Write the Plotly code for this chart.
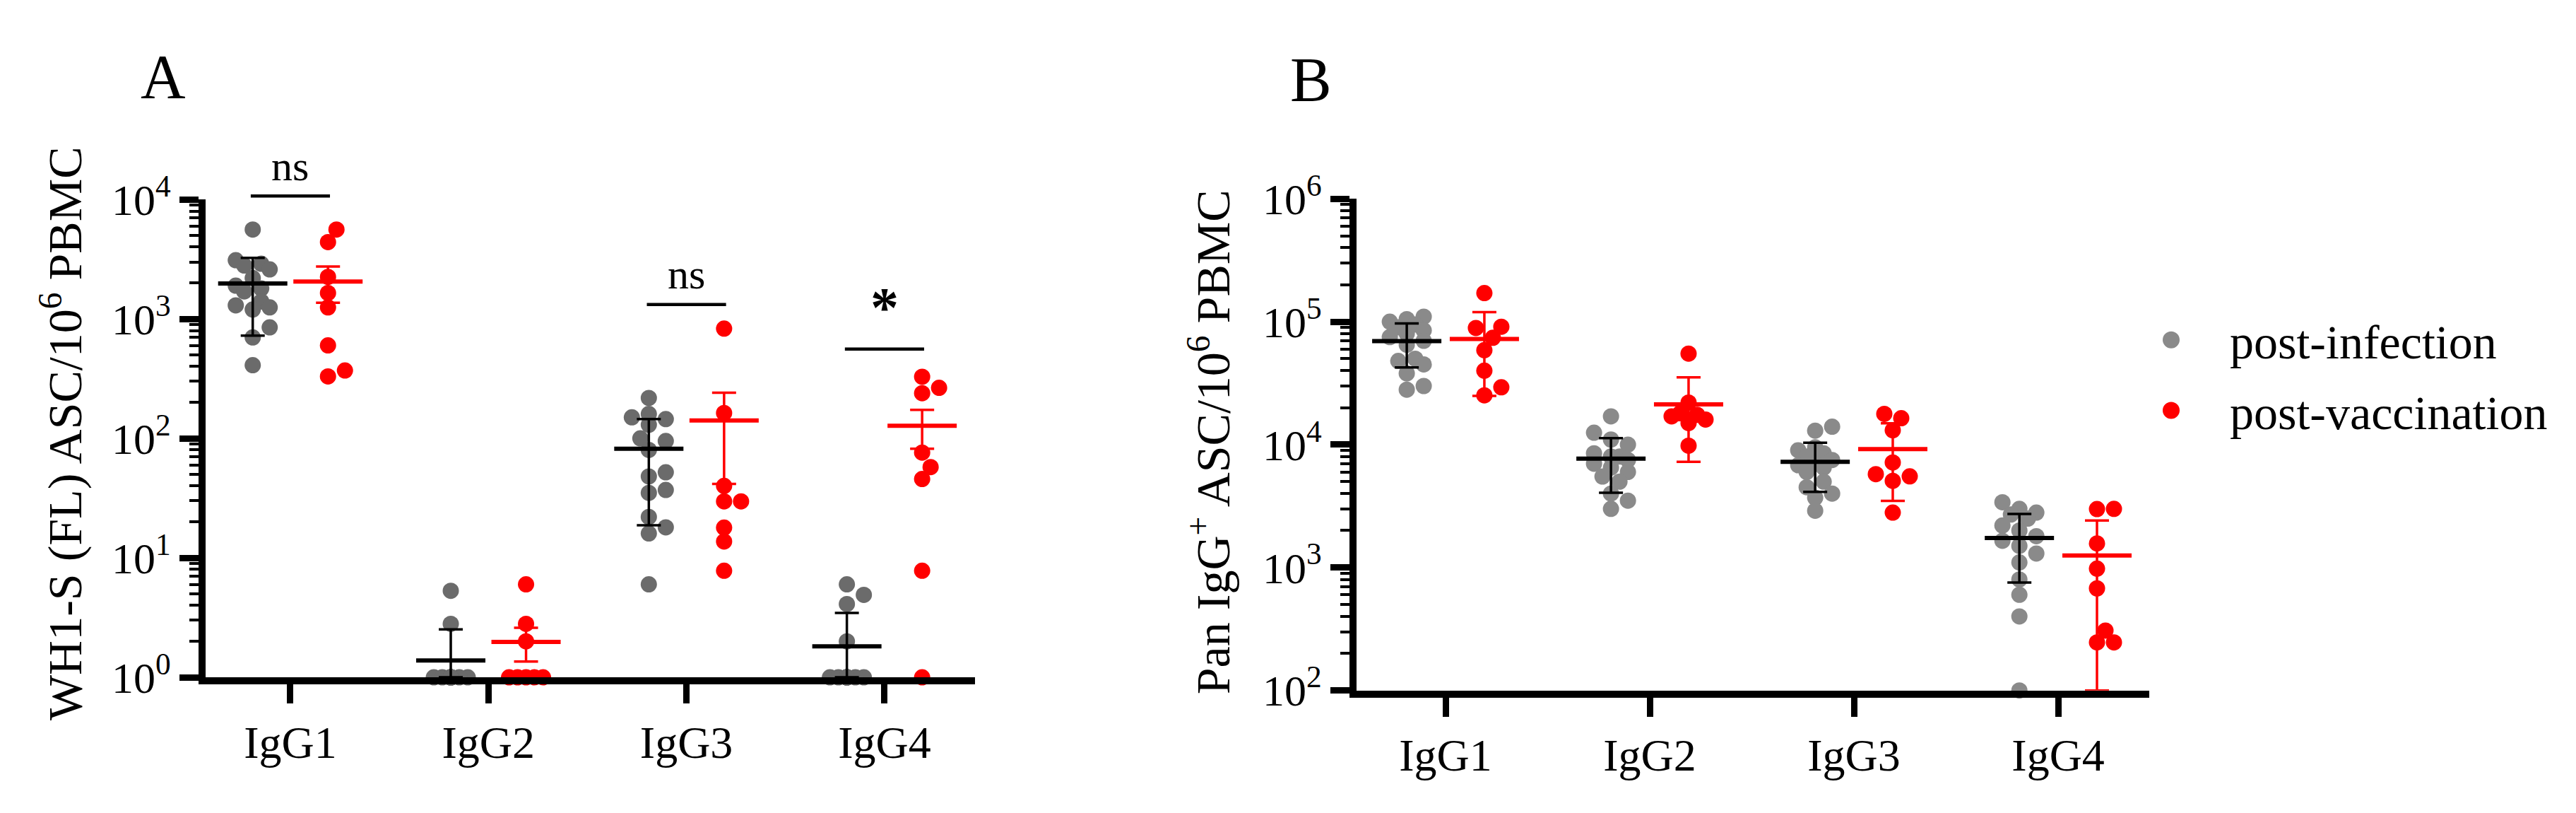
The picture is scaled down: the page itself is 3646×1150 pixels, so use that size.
import numpy as np
import plotly.graph_objects as go

#++++++++++++++++++++++++++++++++++++
# Data
#++++++++++++++++++++++++++++++++++++

CATEGORIES = ["IgG1", "IgG2", "IgG3", "IgG4"]
GROUPS = ["post-infection", "post-vaccination"]

# Panel A - WH1-S (FL) ASC / 10^6 PBMC
A_INF_IGG1 = [5600, 3100, 2900, 2800, 2600, 2200, 1900, 1800, 1700, 1400, 1300, 1250, 1200, 850, 700, 410]
A_INF_IGG2 = [5.3, 2.8, 1, 1, 1, 1, 1, 1, 1, 1, 1, 1, 1, 1, 1, 1]
A_INF_IGG3 = [218, 160, 150, 145, 130, 100, 95, 80, 52, 48, 37, 35, 22, 18, 16, 6]
A_INF_IGG4 = [6, 4.9, 4.1, 2, 1, 1, 1, 1, 1, 1, 1, 1, 1, 1, 1, 1]
A_VAC_IGG1 = [5600, 4400, 2250, 1650, 1250, 600, 370, 330]
A_VAC_IGG2 = [6.0, 2.8, 2.0, 1, 1, 1, 1, 1]
A_VAC_IGG3 = [830, 163, 40, 29.7, 29.7, 17.9, 13.7, 7.8]
A_VAC_IGG4 = [328, 265, 239, 76, 57.5, 45.7, 7.8, 1]

# Panel B - Pan IgG+ ASC / 10^6 PBMC
B_INF_IGG1 = [110000, 105000, 100000, 95000, 90000, 85000, 80000, 75000, 70000, 65000, 50000, 48000, 45000, 38000, 30000, 28000]
B_INF_IGG2 = [17000, 12500, 11000, 10000, 8500, 8000, 8000, 7500, 7000, 6500, 6000, 5500, 5000, 4000, 3500, 3000]
B_INF_IGG3 = [14000, 13000, 9500, 9000, 8500, 8000, 7500, 7000, 6800, 6500, 6000, 5000, 4500, 4000, 3700, 2900]
B_INF_IGG4 = [3400, 3000, 2800, 2700, 2500, 2200, 2000, 1800, 1650, 1500, 1300, 1100, 800, 600, 400, 100]
B_VAC_IGG1 = [171000, 91000, 89000, 74000, 58700, 40000, 29300, 25200]
B_VAC_IGG2 = [55000, 22000, 18000, 17500, 17000, 16000, 15000, 9800]
B_VAC_IGG3 = [17800, 16400, 13100, 7160, 5750, 5520, 5070, 2800]
B_VAC_IGG4 = [3000, 2990, 1570, 980, 677, 307, 246, 246]

Y_TICKS_A = [1, 10, 100, 1000, 10000]
Y_TICKS_B = [100, 1000, 10000, 100000, 1000000]

# significance brackets in panel A: category, bracket value, label
SIG_CATS = [0, 2, 3]
SIG_LEVELS = [10700, 1320, 560]
SIG_LABELS = ["ns", "ns", "*"]

#++++++++++++++++++++++++++++++++++++
# Layout constants (pixels)
#++++++++++++++++++++++++++++++++++++

W, H = 3646, 1150
FONT = "Liberation Serif"
GRAY_A = "#6b6b6b"
GRAY_B = "#8a8a8a"
RED = "#ff0000"
DOT = 23
GROUP_SHIFT = 0.19

PANELS = {
    "A": dict(x0=283, x1=1372, xr=(-0.428, 3.457), ytop=248, ybot=973, yr=(0, 4)),
    "B": dict(x0=1912, x1=3034, xr=(-0.436, 3.446), ytop=247, ybot=993, yr=(2, 6)),
}


def px_scales(p):
    per_unit = (p["x1"] - p["x0"]) / (p["xr"][1] - p["xr"][0])
    per_decade = (p["ybot"] - p["ytop"]) / (p["yr"][1] - p["yr"][0])
    return per_unit, per_decade


def swarm(values, p, step=12.0, max_k=2):
    """Greedy beeswarm offsets (axis units), GraphPad-like narrow columns."""
    per_unit, per_decade = px_scales(p)
    ys = np.log10(values) * per_decade
    order = np.argsort(ys, kind="stable")
    placed = []
    offs = np.zeros(len(values))
    lim = DOT * 0.85
    for i in order:
        cands = [0.0]
        for k in range(1, max_k + 1):
            cands += [k * step, -k * step]
        best, best_d = None, -1
        for c in cands:
            d = min([np.hypot(c - px, ys[i] - py) for px, py in placed] or [1e9])
            if d >= lim:
                best = c
                break
            if d > best_d:
                best, best_d = c, d
        placed.append((best, ys[i]))
        offs[i] = best / per_unit
    return offs


def summary(values, kind):
    v = np.asarray(values, dtype=float)
    m = v.mean()
    sd = v.std(ddof=1)
    err = sd / np.sqrt(len(v)) if kind == "sem" else sd
    return m, err


def add_group(fig, panel, series, color, mean_color, shift, kind, xa, ya):
    p = PANELS[panel]
    ymin = 10 ** p["yr"][0]
    xs, ys = [], []
    for i, vals in enumerate(series):
        offs = swarm(vals, p)
        xs += list(i + shift + offs)
        ys += list(vals)
    fig.add_trace(go.Scatter(
        x=xs, y=ys, mode="markers", xaxis=xa, yaxis=ya, showlegend=False,
        marker=dict(size=DOT, color=color, line=dict(width=0)), cliponaxis=False,
    ))
    means, up, down = [], [], []
    for vals in series:
        m, e = summary(vals, kind)
        means.append(m)
        up.append(e)
        down.append(min(e, m - ymin))
    fig.add_trace(go.Scatter(
        x=[i + shift for i in range(len(series))], y=means, mode="markers",
        xaxis=xa, yaxis=ya, showlegend=False, cliponaxis=False,
        marker=dict(symbol="line-ew-open", size=70, color=mean_color, line=dict(width=6, color=mean_color)),
        error_y=dict(type="data", array=up, arrayminus=down, symmetric=False,
                     color=mean_color, thickness=3.5, width=17),
    ))


fig = go.Figure()

add_group(fig, "A", [A_INF_IGG1, A_INF_IGG2, A_INF_IGG3, A_INF_IGG4], GRAY_A, "black", -GROUP_SHIFT, "sd", "x", "y")
add_group(fig, "A", [A_VAC_IGG1, A_VAC_IGG2, A_VAC_IGG3, A_VAC_IGG4], RED, RED, GROUP_SHIFT, "sem", "x", "y")
add_group(fig, "B", [B_INF_IGG1, B_INF_IGG2, B_INF_IGG3, B_INF_IGG4], GRAY_B, "black", -GROUP_SHIFT, "sd", "x2", "y2")
add_group(fig, "B", [B_VAC_IGG1, B_VAC_IGG2, B_VAC_IGG3, B_VAC_IGG4], RED, RED, GROUP_SHIFT, "sd", "x2", "y2")


def sup_labels(ticks):
    return ["10<sup>%d</sup>" % int(round(np.log10(t))) for t in ticks]


def xaxis_style(p):
    return dict(
        domain=[p["x0"] / W, p["x1"] / W], range=list(p["xr"]),
        tickmode="array", tickvals=[0, 1, 2, 3], ticktext=CATEGORIES,
        showline=True, linewidth=10, linecolor="black",
        ticks="outside", ticklen=27, tickwidth=9, tickcolor="black",
        tickfont=dict(family=FONT, size=64, color="black"),
        showgrid=False, zeroline=False, fixedrange=True,
    )


def yaxis_style(p, ticks, anchor):
    return dict(
        type="log", anchor=anchor,
        domain=[1 - p["ybot"] / H, 1 - p["ytop"] / H], range=list(p["yr"]),
        tickmode="array", tickvals=ticks, ticktext=sup_labels(ticks),
        showline=True, linewidth=10, linecolor="black",
        ticks="outside", ticklen=27, tickwidth=9, tickcolor="black",
        minor=dict(ticks="outside", ticklen=13, tickwidth=4, tickcolor="black", dtick="D1", showgrid=False),
        tickfont=dict(family=FONT, size=62, color="black"),
        showgrid=False, zeroline=False, fixedrange=True,
    )


pa, pb = PANELS["A"], PANELS["B"]
fig.update_layout(
    width=W, height=H, margin=dict(l=0, r=0, t=0, b=0),
    paper_bgcolor="white", plot_bgcolor="white",
    font=dict(family=FONT, color="black"),
    showlegend=False,
    xaxis=dict(xaxis_style(pa), anchor="y"),
    yaxis=yaxis_style(pa, Y_TICKS_A, "x"),
    xaxis2=dict(xaxis_style(pb), anchor="y2"),
    yaxis2=yaxis_style(pb, Y_TICKS_B, "x2"),
)


def to_paper(x, y):
    return x / W, 1 - y / H


def data_px(p, xval, v):
    per_unit, per_decade = px_scales(p)
    return (p["x0"] + (xval - p["xr"][0]) * per_unit,
            p["ybot"] - (np.log10(v) - p["yr"][0]) * per_decade)


annotations = []
shapes = []

# significance brackets (panel A)
for cat, lev, lab in zip(SIG_CATS, SIG_LEVELS, SIG_LABELS):
    xl, yl = data_px(pa, cat - 0.2, lev)
    xr, _ = data_px(pa, cat + 0.2, lev)
    (px0, py0), (px1, _) = to_paper(xl, yl), to_paper(xr, yl)
    shapes.append(dict(type="line", xref="paper", yref="paper", x0=px0, x1=px1, y0=py0, y1=py0,
                       line=dict(color="black", width=4.5)))
    xc, _ = to_paper((xl + xr) / 2, yl)
    if lab == "*":
        annotations.append(dict(text="<b>*</b>", x=xc, y=py0 + 14 / H, xref="paper", yref="paper",
                                xanchor="center", yanchor="bottom", showarrow=False,
                                font=dict(family=FONT, size=80, color="black")))
    else:
        annotations.append(dict(text=lab, x=xc, y=py0 + 8 / H, xref="paper", yref="paper",
                                xanchor="center", yanchor="bottom", showarrow=False,
                                font=dict(family=FONT, size=60, color="black")))

# panel letters
for lab, (cx, cy) in [("A", (223, 62)), ("B", (1848, 66))]:
    x, y = to_paper(cx, cy)
    annotations.append(dict(text=lab, x=x, y=y, xref="paper", yref="paper", xanchor="center",
                            yanchor="middle", showarrow=False, font=dict(family=FONT, size=88, color="black")))

# y-axis titles
for txt, (cx, cy) in [("WH1-S (FL) ASC/10<sup>6</sup> PBMC", (80, 603)),
                      ("Pan IgG<sup>+</sup> ASC/10<sup>6</sup> PBMC", (1705, 616))]:
    x, y = to_paper(cx, cy)
    annotations.append(dict(text=txt, x=x, y=y, xref="paper", yref="paper", xanchor="center",
                            yanchor="middle", textangle=-90, showarrow=False,
                            font=dict(family=FONT, size=68, color="black")))

# legend
for name, color, cy in zip(GROUPS, [GRAY_B, RED], [461, 568]):
    x, y = to_paper(3065, cy)
    shapes.append(dict(type="circle", xref="paper", yref="paper", xsizemode="pixel", ysizemode="pixel",
                       xanchor=x, yanchor=y, x0=-12, x1=12, y0=-12, y1=12,
                       fillcolor=color, line=dict(width=0)))
    tx, ty = to_paper(3146, cy + 4)
    annotations.append(dict(text=name, x=tx, y=ty, xref="paper", yref="paper", xanchor="left",
                            yanchor="middle", showarrow=False, font=dict(family=FONT, size=68, color="black")))

fig.update_layout(annotations=annotations, shapes=shapes)

fig.write_html("out.html")
